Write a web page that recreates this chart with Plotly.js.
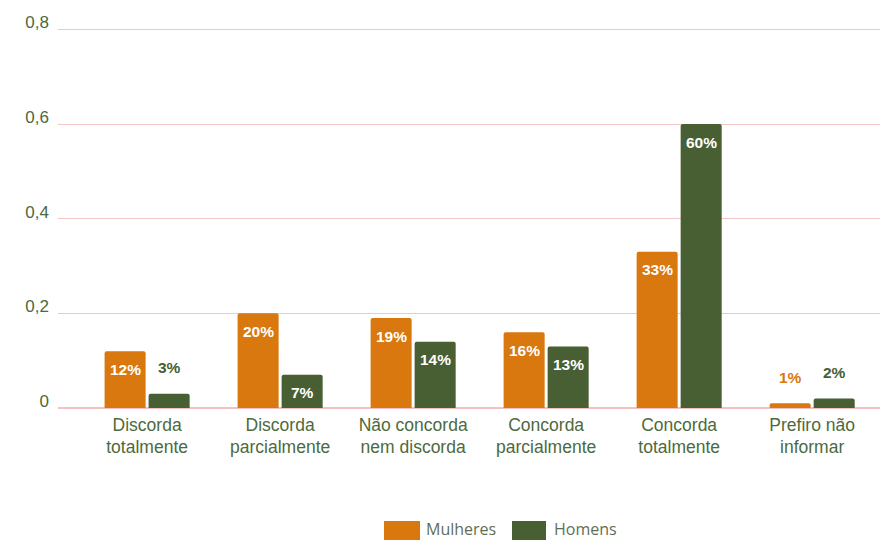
<!DOCTYPE html>
<html>
<head>
<meta charset="utf-8">
<script src="https://cdn.plot.ly/plotly-3.0.1.min.js"></script>
<style>html,body{margin:0;padding:0;background:#fff}#chart{width:880px;height:540px}</style>
</head>
<body>
<div id="chart"></div>
<script>
const categories = ["Discorda<br>totalmente", "Discorda<br>parcialmente", "Não concorda<br>nem discorda", "Concorda<br>parcialmente", "Concorda<br>totalmente", "Prefiro não<br>informar"];
const mulheres = [0.12, 0.20, 0.19, 0.16, 0.33, 0.01];
const homens = [0.03, 0.07, 0.14, 0.13, 0.60, 0.02];
const seriesNames = ["Mulheres", "Homens"];
const tickVals = [0, 0.2, 0.4, 0.6, 0.8];
const tickText = ["0", "0,2", "0,4", "0,6", "0,8"];

const ORANGE = "#d9780f";
const GREEN = "#485e33";
const TXT = "#4d6a3c";

const traces = [
  {type: "bar", x: categories, y: mulheres, name: seriesNames[0], marker: {color: ORANGE}, showlegend: false, hoverinfo: "none"},
  {type: "bar", x: categories, y: homens, name: seriesNames[1], marker: {color: GREEN}, showlegend: false, hoverinfo: "none"}
];

const annotations = [];
[[mulheres, ORANGE, -22], [homens, GREEN, 22]].forEach(([vals, col, xs]) => {
  vals.forEach((v, i) => {
    const inside = v >= 0.05;
    annotations.push({
      x: categories[i], y: v, xref: "x", yref: "y",
      text: Math.round(v * 100) + "%", showarrow: false,
      xshift: xs, yshift: inside ? -18 : 26,
      font: {family: "Liberation Sans, Arial, sans-serif", size: 15.5, color: inside ? "#ffffff" : col, weight: "bold"}
    });
  });
});

// custom legend
const legendDefs = [[seriesNames[0], ORANGE, 0.3966, 0.4404, 0.4453], [seriesNames[1], GREEN, 0.5523, 0.5937, 0.601]];
const shapes = [];
legendDefs.forEach(([name, col, x0, x1, tx]) => {
  shapes.push({type: "rect", xref: "paper", yref: "paper", x0: x0, x1: x1, y0: -0.2966, y1: -0.348, fillcolor: col, line: {width: 0}});
  annotations.push({xref: "paper", yref: "paper", x: tx, y: -0.3176, xanchor: "left", yanchor: "middle", text: name, showarrow: false,
    font: {family: "Open Sans, sans-serif", size: 16, color: "#5f6e58"}});
});

const layout = {
  width: 880, height: 540,
  margin: {l: 58, r: 0, t: 27, b: 132},
  paper_bgcolor: "#ffffff", plot_bgcolor: "#ffffff",
  separators: ",.",
  barmode: "group", bargap: 0.338, bargroupgap: 0.068,
  barcornerradius: 2,
  showlegend: false,
  xaxis: {
    range: [-0.67, 5.51], showgrid: false, zeroline: false, showline: false, ticks: "",
    ticklabelstandoff: 4,
    tickfont: {family: "Liberation Sans, Arial, sans-serif", size: 17.5, color: TXT},
    fixedrange: true
  },
  yaxis: {
    range: [0, 0.805], tickvals: tickVals, ticktext: tickText,
    showgrid: true, gridcolor: "#f3c6c6", gridwidth: 1,
    zeroline: true, zerolinecolor: "#f3c2c2", zerolinewidth: 2,
    showline: false, ticks: "", ticklabelstandoff: 8, ticklabelshift: -7,
    tickfont: {family: "Liberation Sans, Arial, sans-serif", size: 17, color: TXT},
    fixedrange: true
  },
  annotations: annotations,
  shapes: shapes
};

Plotly.newPlot("chart", traces, layout, {displayModeBar: false, staticPlot: true});
</script>
</body>
</html>
